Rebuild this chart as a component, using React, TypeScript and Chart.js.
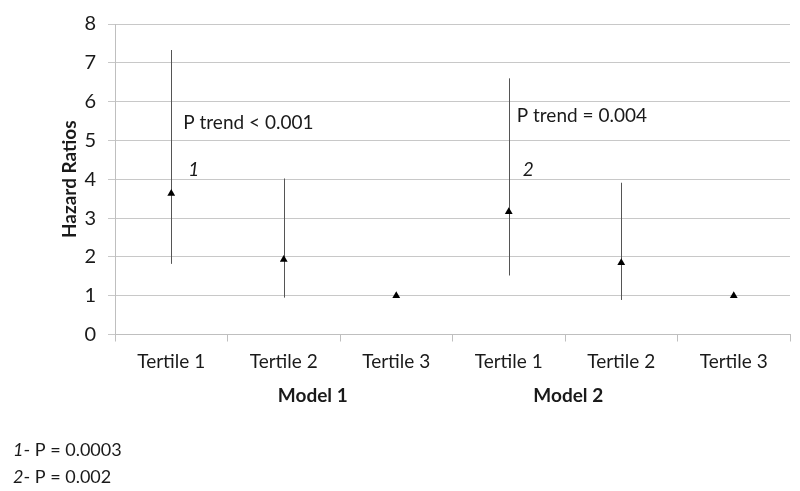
import React, { useEffect, useRef } from "react";
import { Chart, registerables } from "chart.js";

Chart.register(...registerables);

const categories = ["Tertile 1", "Tertile 2", "Tertile 3", "Tertile 1", "Tertile 2", "Tertile 3"];
const hazardRatios = [3.63, 1.93, 1.0, 3.16, 1.85, 1.0];
const lowerCI = [1.82, 0.95, 1.0, 1.52, 0.89, 1.0];
const upperCI = [7.33, 4.02, 1.0, 6.6, 3.91, 1.0];
const yTicks = [0, 1, 2, 3, 4, 5, 6, 7, 8];
const groupLabels = ["Model 1", "Model 2"];
const trendLabels = ["P trend < 0.001", "P trend = 0.004"];
const markLabels = ["1", "2"];
const footnotes = [
  { mark: "1", text: "- P = 0.0003" },
  { mark: "2", text: "- P = 0.002" },
];

const FONT = "Lato, 'Open Sans', sans-serif";
const TEXT = "#1a1a1a";

export default function App() {
  const ref = useRef<HTMLCanvasElement>(null);
  useEffect(() => {
    const canvas = ref.current!;
    const overlay = {
      id: "overlay",
      beforeDatasetsDraw(chart: any) {
        const ctx = chart.ctx;
        const x = chart.scales.x;
        const y = chart.scales.y;
        ctx.save();
        ctx.strokeStyle = "#555555";
        ctx.lineWidth = 1;
        for (let i = 0; i < hazardRatios.length; i++) {
          if (upperCI[i] === lowerCI[i]) continue;
          const px = Math.round(x.getPixelForValue(i)) + 0.5;
          ctx.beginPath();
          ctx.moveTo(px, y.getPixelForValue(lowerCI[i]));
          ctx.lineTo(px, y.getPixelForValue(upperCI[i]));
          ctx.stroke();
        }
        ctx.restore();
      },
      afterDraw(chart: any) {
        const ctx = chart.ctx;
        const x = chart.scales.x;
        const y = chart.scales.y;
        ctx.save();
        ctx.fillStyle = TEXT;
        // y title
        ctx.save();
        ctx.translate(70, (chart.chartArea.top + chart.chartArea.bottom) / 2);
        ctx.rotate(-Math.PI / 2);
        ctx.font = `bold 19px ${FONT}`;
        ctx.textAlign = "center";
        ctx.textBaseline = "middle";
        ctx.fillText("Hazard Ratios", 0, 0);
        ctx.restore();
        // group labels
        ctx.font = `bold 19px ${FONT}`;
        ctx.textAlign = "center";
        ctx.textBaseline = "middle";
        ctx.fillText(groupLabels[0], x.getPixelForValue(1) + 29, 396);
        ctx.fillText(groupLabels[1], x.getPixelForValue(4) - 53, 396);
        // trend annotations
        ctx.font = `19px ${FONT}`;
        ctx.textAlign = "left";
        ctx.fillText(trendLabels[0], x.getPixelForValue(0) + 12, y.getPixelForValue(5.45));
        ctx.fillText(trendLabels[1], x.getPixelForValue(3) + 8, y.getPixelForValue(5.63));
        ctx.font = `italic 19px ${FONT}`;
        ctx.fillText(markLabels[0], x.getPixelForValue(0) + 17, y.getPixelForValue(4.25));
        ctx.fillText(markLabels[1], x.getPixelForValue(3) + 14, y.getPixelForValue(4.25));
        // footnotes
        const fy = [450, 477];
        footnotes.forEach((f, i) => {
          ctx.font = `italic 18px ${FONT}`;
          ctx.fillText(f.mark, 13, fy[i]);
          const w = ctx.measureText(f.mark).width;
          ctx.font = `18px ${FONT}`;
          ctx.fillText(f.text, 13 + w, fy[i]);
        });
        ctx.restore();
      },
    };
    const chart = new Chart(canvas, {
      type: "line",
      data: {
        labels: categories,
        datasets: [
          {
            data: hazardRatios,
            showLine: false,
            pointStyle: "triangle",
            pointRadius: 4.5,
            pointBackgroundColor: "#000000",
            pointBorderColor: "#000000",
            pointBorderWidth: 0,
          },
        ],
      },
      options: {
        animation: false,
        responsive: false,
        maintainAspectRatio: false,
        layout: { padding: { left: 0, right: 10, top: 17, bottom: 0 } },
        plugins: { legend: { display: false }, tooltip: { enabled: false } },
        scales: {
          x: {
            type: "category",
            offset: true,
            grid: {
              offset: true,
              drawOnChartArea: false,
              drawTicks: true,
              tickLength: 7,
              color: "#bfbfbf",
            },
            border: { color: "#bfbfbf" },
            ticks: { color: TEXT, font: { family: FONT, size: 19 }, padding: 9, maxRotation: 0, autoSkip: false },
            afterFit(scale: any) {
              scale.height = 491 - 334.5;
            },
          },
          y: {
            min: 0,
            max: 8,
            afterBuildTicks(scale: any) {
              scale.ticks = yTicks.map((v) => ({ value: v }));
            },
            grid: { color: "#c8c8c8", tickLength: 7 },
            border: { color: "#bfbfbf" },
            ticks: { color: TEXT, font: { family: FONT, size: 20 }, padding: 12 },
            afterFit(scale: any) {
              scale.width = 115;
            },
          },
        },
      },
      plugins: [overlay],
    });
    return () => chart.destroy();
  }, []);
  return (
    <div style={{ position: "fixed", left: 0, top: 0, width: 800, height: 491, background: "#fff" }}>
      <canvas ref={ref} width={800} height={491} style={{ width: 800, height: 491 }} />
    </div>
  );
}
